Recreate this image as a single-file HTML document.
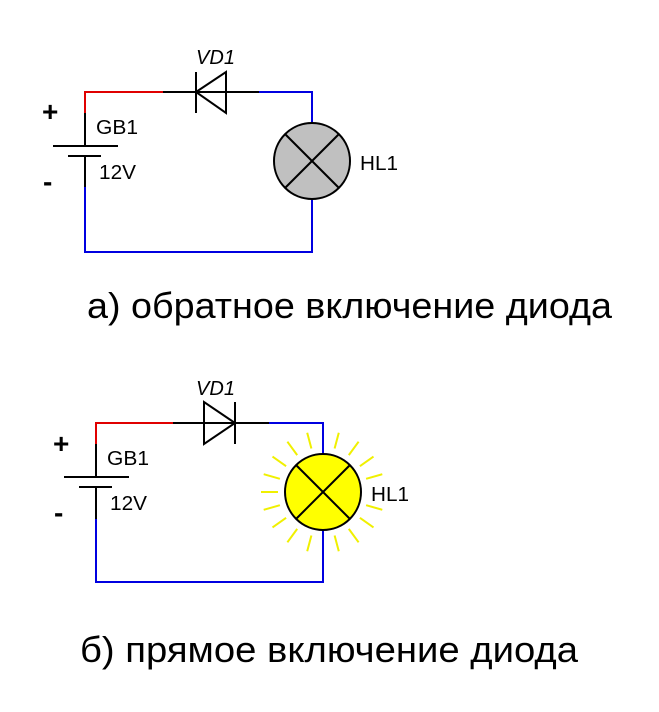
<!DOCTYPE html>
<html><head><meta charset="utf-8"><style>
html,body{margin:0;padding:0;background:#fff;}
svg{display:block;}
text{font-family:"Liberation Sans",sans-serif;fill:#000;}
</style></head><body>
<svg width="659" height="712" viewBox="0 0 659 712" xmlns="http://www.w3.org/2000/svg">
<!-- Circuit a -->
<g stroke-width="2" fill="none">
<polyline points="85,113 85,92 163,92" stroke="#e00000"/>
<line x1="163" y1="92" x2="259" y2="92" stroke="#000"/>
<polyline points="259,92 312,92 312,123" stroke="#0000e0"/>
<polyline points="312,199 312,252 85,252 85,187" stroke="#0000e0"/>
<line x1="85" y1="113" x2="85" y2="146" stroke="#000"/>
<line x1="85" y1="156" x2="85" y2="187" stroke="#000"/>
<line x1="53" y1="146" x2="118" y2="146" stroke="#000"/>
<line x1="68" y1="156" x2="101" y2="156" stroke="#000"/>
<line x1="196" y1="72" x2="196" y2="113" stroke="#000"/>
<polygon points="196,92 226,72 226,113" stroke="#000"/>
<circle cx="312" cy="161" r="38" fill="#c0c0c0" stroke="#000"/>
<line x1="285" y1="134" x2="339" y2="188" stroke="#000"/>
<line x1="339" y1="134" x2="285" y2="188" stroke="#000"/>
</g>
<text x="42" y="121" font-size="28" font-weight="bold">+</text>
<text x="43" y="191" font-size="28" font-weight="bold">-</text>
<text x="96" y="134" font-size="20" textLength="42" lengthAdjust="spacingAndGlyphs">GB1</text>
<text x="99" y="179" font-size="20" textLength="37" lengthAdjust="spacingAndGlyphs">12V</text>
<text x="196" y="64" font-size="20" font-style="italic" textLength="39" lengthAdjust="spacingAndGlyphs">VD1</text>
<text x="360" y="170" font-size="20" textLength="38" lengthAdjust="spacingAndGlyphs">HL1</text>
<text x="87" y="318" font-size="36" textLength="525" lengthAdjust="spacingAndGlyphs">а) обратное включение диода</text>

<!-- Circuit b -->
<g stroke-width="2" fill="none">
<polyline points="96,444 96,423 173,423" stroke="#e00000"/>
<line x1="173" y1="423" x2="269" y2="423" stroke="#000"/>
<polyline points="269,423 323,423 323,454" stroke="#0000e0"/>
<polyline points="323,530 323,582 96,582 96,519" stroke="#0000e0"/>
<line x1="96" y1="444" x2="96" y2="477" stroke="#000"/>
<line x1="96" y1="487" x2="96" y2="519" stroke="#000"/>
<line x1="64" y1="477" x2="129" y2="477" stroke="#000"/>
<line x1="79" y1="487" x2="112" y2="487" stroke="#000"/>
<line x1="235" y1="402" x2="235" y2="444" stroke="#000"/>
<polygon points="235,423 204,402 204,444" stroke="#000"/>
<g stroke="#f0f000">
<line x1="311.4" y1="448.5" x2="307.2" y2="432.7"/>
<line x1="334.6" y1="448.5" x2="338.8" y2="432.7"/>
<line x1="297.2" y1="455.1" x2="287.4" y2="441.7"/>
<line x1="348.8" y1="455.1" x2="358.6" y2="441.7"/>
<line x1="286.1" y1="466.2" x2="272.5" y2="456.6"/>
<line x1="359.9" y1="466.2" x2="373.5" y2="456.6"/>
<line x1="279.9" y1="478.8" x2="263.7" y2="474.2"/>
<line x1="366.1" y1="478.8" x2="382.3" y2="474.2"/>
<line x1="278" y1="492" x2="261" y2="492"/>
<line x1="279.9" y1="505.2" x2="263.7" y2="509.8"/>
<line x1="366.1" y1="505.2" x2="382.3" y2="509.8"/>
<line x1="286.1" y1="517.8" x2="272.5" y2="527.4"/>
<line x1="359.9" y1="517.8" x2="373.5" y2="527.4"/>
<line x1="297.2" y1="528.9" x2="287.4" y2="542.3"/>
<line x1="348.8" y1="528.9" x2="358.6" y2="542.3"/>
<line x1="311.4" y1="535.5" x2="307.2" y2="551.3"/>
<line x1="334.6" y1="535.5" x2="338.8" y2="551.3"/>
</g>
<circle cx="323" cy="492" r="38" fill="#ffff00" stroke="#000"/>
<line x1="296" y1="465" x2="350" y2="519" stroke="#000"/>
<line x1="350" y1="465" x2="296" y2="519" stroke="#000"/>
</g>
<text x="53" y="453" font-size="28" font-weight="bold">+</text>
<text x="54" y="522" font-size="28" font-weight="bold">-</text>
<text x="107" y="465" font-size="20" textLength="42" lengthAdjust="spacingAndGlyphs">GB1</text>
<text x="110" y="510" font-size="20" textLength="37" lengthAdjust="spacingAndGlyphs">12V</text>
<text x="196" y="395" font-size="20" font-style="italic" textLength="39" lengthAdjust="spacingAndGlyphs">VD1</text>
<text x="371" y="501" font-size="20" textLength="38" lengthAdjust="spacingAndGlyphs">HL1</text>
<text x="80" y="662" font-size="36" textLength="498" lengthAdjust="spacingAndGlyphs">б) прямое включение диода</text>
</svg>
</body></html>
